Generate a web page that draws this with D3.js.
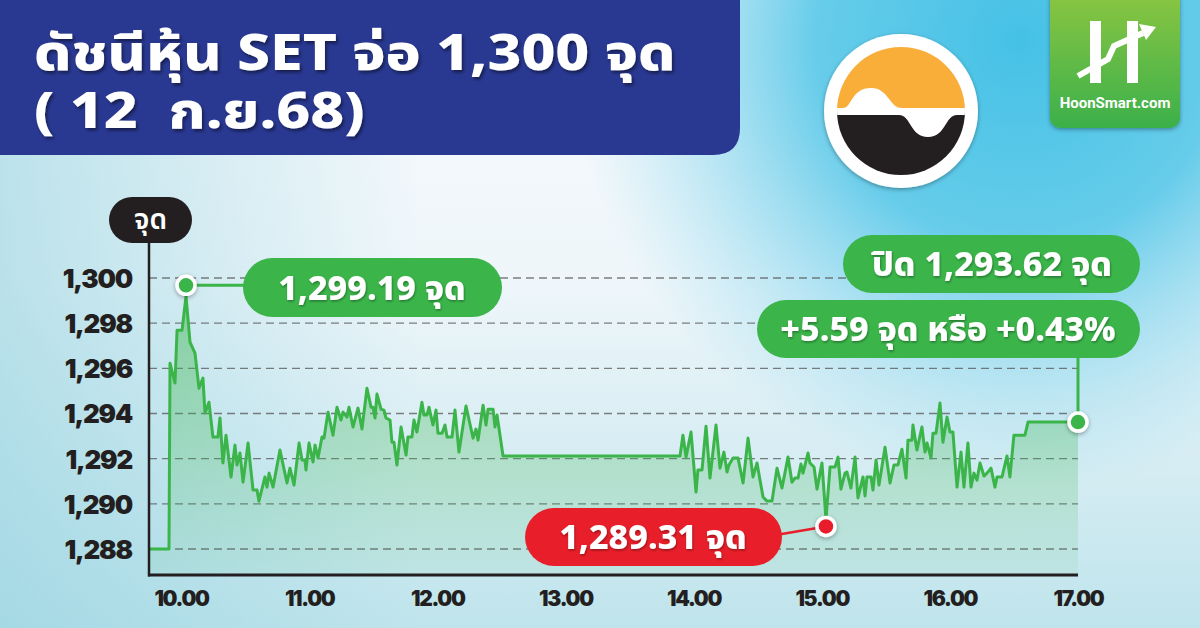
<!DOCTYPE html>
<html><head><meta charset="utf-8">
<script src="https://cdn.jsdelivr.net/npm/d3@7"></script>
<style>
html,body{margin:0;padding:0;width:1200px;height:628px;overflow:hidden;background:#fff;}
svg{display:block;}
text{white-space:pre;}
</style></head><body>
<svg id="chart" width="1200" height="628"></svg>
<script>
// ---------- DATA ----------
const times = [9.750,9.906,9.914,9.953,9.969,10.008,10.039,10.070,10.109,10.140,10.171,10.187,10.218,10.249,10.288,10.304,10.327,10.351,10.390,10.421,10.437,10.460,10.484,10.523,10.562,10.593,10.608,10.655,10.671,10.687,10.718,10.772,10.827,10.850,10.882,10.921,10.944,10.967,10.975,10.999,11.030,11.046,11.069,11.100,11.116,11.147,11.186,11.217,11.248,11.264,11.295,11.311,
11.342,11.381,11.412,11.451,11.483,11.498,11.514,11.529,11.561,11.584,11.600,11.631,11.646,11.662,11.685,11.717,11.756,11.771,11.802,11.818,11.841,11.880,11.896,11.919,11.935,11.966,11.990,12.005,12.037,12.060,12.076,12.115,12.138,12.169,12.224,12.279,12.302,12.318,12.357,12.380,12.396,12.435,12.450,12.466,12.513,13.894,
13.917,13.941,13.980,14.019,14.034,14.066,14.097,14.128,14.175,14.206,14.237,14.261,14.276,14.308,14.347,14.386,14.425,14.464,14.495,14.542,14.573,14.612,14.651,14.690,14.737,14.768,14.791,14.815,14.838,14.854,14.893,14.908,14.940,14.963,15.002,15.033,15.065,15.104,15.127,15.150,15.182,
15.197,15.228,15.260,15.283,15.322,15.338,15.353,15.385,15.400,15.424,15.447,15.494,15.533,15.564,15.595,15.626,15.658,15.673,15.704,15.712,15.743,15.782,15.806,15.822,15.853,15.868,15.892,15.923,15.946,15.978,16.001,16.024,16.056,16.087,16.110,16.141,16.165,16.188,16.212,16.235,16.266,16.290,16.321,16.352,16.368,16.407,16.446,16.469,16.500,16.586,16.610,17.000];
const values = [1288.00,1288.00,1296.23,1295.35,1297.69,1297.69,1299.19,1297.16,1296.67,1295.12,1295.57,1294.02,1294.50,1292.96,1292.96,1293.80,1291.81,1293.04,1291.19,1292.60,1291.72,1292.25,1290.96,1292.69,1290.61,1290.61,1290.12,1291.19,1290.74,1291.36,1290.74,1292.38,1290.92,1291.58,1290.83,1292.69,1291.94,1291.94,1291.50,1292.69,1291.85,1292.60,1292.03,1292.96,1292.91,1294.06,1293.04,1294.28,1293.71,1294.06,1293.84,1294.28,
1293.40,1294.24,1293.31,1295.12,1294.28,1294.28,1293.80,1294.86,1294.19,1294.15,1293.80,1293.71,1292.73,1292.73,1291.72,1293.40,1292.16,1292.96,1292.96,1293.71,1293.18,1294.50,1293.93,1293.93,1294.28,1293.49,1294.15,1293.13,1293.13,1293.49,1292.96,1292.96,1294.15,1292.29,1294.33,1292.91,1293.31,1292.82,1294.37,1293.49,1294.19,1294.19,1293.40,1293.93,1292.12,1292.12,
1293.04,1292.07,1293.18,1290.52,1291.50,1291.50,1293.44,1291.14,1293.49,1291.58,1292.29,1291.41,1291.72,1292.03,1292.03,1290.92,1292.91,1291.19,1291.81,1290.30,1290.12,1290.12,1291.58,1290.70,1292.07,1290.96,1291.14,1291.14,1291.76,1291.36,1292.25,1291.81,1291.63,1290.65,1291.81,1289.31,1291.63,1291.63,1292.07,1290.65,1291.36,
1291.41,1290.70,1292.07,1290.26,1291.19,1290.35,1291.19,1291.19,1290.61,1291.94,1290.83,1292.51,1290.92,1291.72,1291.72,1292.42,1291.14,1292.82,1292.82,1293.49,1292.38,1293.40,1292.29,1292.69,1292.03,1293.13,1293.13,1294.46,1292.73,1293.84,1293.18,1293.18,1290.74,1292.29,1290.74,1292.69,1290.74,1291.36,1291.05,1291.81,1291.23,1291.36,1291.58,1290.74,1291.19,1291.19,1292.12,1291.19,1293.04,1293.04,1293.62,1293.62];

const xTicks = [10, 11, 12, 13, 14, 15, 16, 17];
const yTicks = [1288, 1290, 1292, 1294, 1296, 1298, 1300];
const titleLines = ["ดัชนีหุ้น SET จ่อ 1,300 จุด", "( 12  ก.ย.68)"];
const unitLabel = "จุด";
const highPoint = {t: 10.039, v: 1299.19, label: "1,299.19 จุด"};
const lowPoint = {t: 15.033, v: 1289.31, label: "1,289.31 จุด"};
const closePoint = {t: 17.0, v: 1293.62, label: "ปิด 1,293.62 จุด", change: "+5.59 จุด หรือ +0.43%"};
const brandText = "HoonSmart.com";

// ---------- SETUP ----------
const W = 1200, H = 628;
const svg = d3.select("#chart");
const defs = svg.append("defs");
const FONT = "'Noto Sans Thai','Noto Sans','DejaVu Sans',sans-serif";
const NUMFONT = "Inter,'Noto Sans Thai','Noto Sans',sans-serif";
const GREEN = "#3bb54a", RED = "#e81f2a";

// gradients
const bg = defs.append("linearGradient").attr("id","bg").attr("x1",0).attr("y1",0).attr("x2",0).attr("y2",1);
bg.append("stop").attr("offset","0%").attr("stop-color","#f7fafc");
bg.append("stop").attr("offset","45%").attr("stop-color","#eef6fa");
bg.append("stop").attr("offset","100%").attr("stop-color","#bfe4ec");
const bgL = defs.append("linearGradient").attr("id","bgL").attr("x1",0).attr("y1",0).attr("x2",1).attr("y2",0);
bgL.append("stop").attr("offset","0%").attr("stop-color","#8fd0de").attr("stop-opacity",0.55);
bgL.append("stop").attr("offset","35%").attr("stop-color","#8fd0de").attr("stop-opacity",0.0);
const sky = defs.append("radialGradient").attr("id","sky").attr("cx",1020).attr("cy",40).attr("r",450).attr("gradientUnits","userSpaceOnUse");
sky.append("stop").attr("offset","0%").attr("stop-color","#45c1e6").attr("stop-opacity",1);
sky.append("stop").attr("offset","45%").attr("stop-color","#56c7e8").attr("stop-opacity",0.9);
sky.append("stop").attr("offset","100%").attr("stop-color","#8fd8ee").attr("stop-opacity",0);
const areaG = defs.append("linearGradient").attr("id","areaG").attr("x1",0).attr("y1",0).attr("x2",0).attr("y2",1);
areaG.append("stop").attr("offset","0%").attr("stop-color","#3bb54a").attr("stop-opacity",0.5);
areaG.append("stop").attr("offset","100%").attr("stop-color","#3bb54a").attr("stop-opacity",0.06);
const hs = defs.append("linearGradient").attr("id","hs").attr("x1",0).attr("y1",0).attr("x2",0).attr("y2",1);
hs.append("stop").attr("offset","0%").attr("stop-color","#8dc641");
hs.append("stop").attr("offset","100%").attr("stop-color","#3bb04a");

const sh = defs.append("filter").attr("id","sh").attr("x","-20%").attr("y","-20%").attr("width","140%").attr("height","160%");
sh.append("feDropShadow").attr("dx",1.5).attr("dy",2.5).attr("stdDeviation",1.5).attr("flood-color","#000").attr("flood-opacity",0.45);
const shs = defs.append("filter").attr("id","shs").attr("x","-20%").attr("y","-20%").attr("width","140%").attr("height","160%");
shs.append("feDropShadow").attr("dx",0.8).attr("dy",1.5).attr("stdDeviation",1).attr("flood-color","#000").attr("flood-opacity",0.35);
const shm = defs.append("filter").attr("id","shm").attr("x","-50%").attr("y","-50%").attr("width","200%").attr("height","200%");
shm.append("feDropShadow").attr("dx",0).attr("dy",1.5).attr("stdDeviation",2).attr("flood-color","#000").attr("flood-opacity",0.35);

// background
svg.append("rect").attr("width",W).attr("height",H).attr("fill","url(#bg)");
svg.append("rect").attr("width",W).attr("height",H).attr("fill","url(#bgL)");
svg.append("rect").attr("width",W).attr("height",H).attr("fill","url(#sky)");

// ---------- TITLE ----------
svg.append("path")
  .attr("d","M0,0 H740 V128 Q740,155 713,155 H0 Z")
  .attr("fill","#293891");
const tt = svg.append("text").attr("filter","url(#sh)").attr("fill","#fff")
  .attr("font-family",FONT).attr("font-weight",800).attr("font-size",49)
  .attr("transform","translate(34,70) scale(1.2,1)");
tt.selectAll("tspan").data(titleLines).join("tspan")
  .attr("x",0).attr("y",(d,i)=>i*58).text(d=>d);

// ---------- SET LOGO ----------
const lg = svg.append("g");
lg.append("circle").attr("cx",901).attr("cy",111).attr("r",77).attr("fill","#fff").attr("filter","url(#shm)");
defs.append("clipPath").attr("id","lc").append("circle").attr("cx",901).attr("cy",111).attr("r",64);
const lgi = lg.append("g").attr("clip-path","url(#lc)");
lgi.append("rect").attr("x",830).attr("y",40).attr("width",150).attr("height",72).attr("fill","#f9ae3a");
lgi.append("rect").attr("x",830).attr("y",111).attr("width",150).attr("height",72).attr("fill","#231f20");
lgi.append("path").attr("fill","#fff")
  .attr("d","M830,108 H843 C852,108 851,88 871,88 C889,88 889,108 902,108 H980 V115 H957 C945,115 946,137 928,137 C910,137 911,115 899,115 H830 Z");

// ---------- HOONSMART LOGO ----------
const hg = svg.append("g");
hg.append("rect").attr("x",1050).attr("y",-12).attr("width",130).attr("height",140).attr("rx",10)
  .attr("fill","url(#hs)").attr("filter","url(#shm)");
hg.append("rect").attr("x",1090).attr("y",21).attr("width",11).attr("height",62).attr("fill","#fff");
hg.append("rect").attr("x",1127).attr("y",21).attr("width",11).attr("height",62).attr("fill","#fff");
hg.append("path").attr("d","M1078,76 L1108,59 L1114,46 L1143,33")
  .attr("fill","none").attr("stroke","#fff").attr("stroke-width",6).attr("stroke-linejoin","miter");
hg.append("path").attr("d","M1156,27 L1139,24 L1146,40 Z").attr("fill","#fff");
hg.append("text").attr("x",1115).attr("y",108).attr("text-anchor","middle")
  .attr("font-family","Roboto,'Noto Sans',sans-serif").attr("font-weight",700).attr("font-size",15)
  .attr("fill","#fff").text(brandText);

// ---------- SCALES ----------
const x = d3.scaleLinear().domain([9.75, 17]).range([149, 1078]);
const y = d3.scaleLinear().domain([1288, 1300]).range([549, 278]);
const plotBottom = 575, plotTop = 243;
const data = times.map((t,i)=>({t, v: values[i]}));

// grid
svg.append("g").selectAll("line").data(yTicks).join("line")
  .attr("x1",x.range()[0]).attr("x2",x.range()[1])
  .attr("y1",d=>y(d)).attr("y2",d=>y(d))
  .attr("stroke","#555").attr("stroke-opacity",0.75).attr("stroke-width",1.4).attr("stroke-dasharray","8,5");

// area + line
svg.append("path").datum(data)
  .attr("d", d3.area().x(d=>x(d.t)).y0(plotBottom).y1(d=>y(d.v)))
  .attr("fill","url(#areaG)");
svg.append("path").datum(data)
  .attr("d", d3.line().x(d=>x(d.t)).y(d=>y(d.v)))
  .attr("fill","none").attr("stroke",GREEN).attr("stroke-width",3).attr("stroke-linejoin","round");

// axes
const yAxis = svg.append("g").attr("transform","translate(149,0)")
  .call(d3.axisLeft(y).tickValues(yTicks).tickFormat(d3.format(",")).tickSize(0).tickPadding(17));
yAxis.select(".domain").remove();
yAxis.selectAll("text").attr("font-family",NUMFONT).attr("font-weight",900).attr("font-size",26)
  .attr("fill","#231f20").attr("letter-spacing",-1.2).attr("dy","0.36em");
const xAxis = svg.append("g").attr("transform",`translate(0,${plotBottom})`)
  .call(d3.axisBottom(x).tickValues(xTicks).tickFormat(d=>d+".00").tickSize(0).tickPadding(16));
xAxis.select(".domain").remove();
xAxis.selectAll("text").attr("font-family",NUMFONT).attr("font-weight",900).attr("font-size",21)
  .attr("fill","#231f20").attr("letter-spacing",-1.3);
svg.append("line").attr("x1",149).attr("x2",149).attr("y1",plotTop).attr("y2",plotBottom+1.5)
  .attr("stroke","#231f20").attr("stroke-width",2.5);
svg.append("line").attr("x1",148).attr("x2",1078).attr("y1",plotBottom).attr("y2",plotBottom)
  .attr("stroke","#231f20").attr("stroke-width",3);

// unit badge
svg.append("rect").attr("x",109).attr("y",197).attr("width",83).attr("height",46).attr("rx",23).attr("fill","#231f20");
svg.append("text").attr("x",150.5).attr("y",229).attr("text-anchor","middle")
  .attr("font-family",FONT).attr("font-weight",600).attr("font-size",28).attr("fill","#fff").text(unitLabel);

// ---------- ANNOTATIONS ----------
function pill(x0, y0, w, h, color, label, tx, fs){
  svg.append("rect").attr("x",x0).attr("y",y0).attr("width",w).attr("height",h).attr("rx",h/2).attr("fill",color);
  svg.append("text").attr("x",tx).attr("y",y0+h/2).attr("dy","0.36em").attr("text-anchor","middle")
    .attr("font-family",FONT).attr("font-weight",800).attr("font-size",fs||34).attr("fill","#fff")
    .attr("filter","url(#shs)").text(label);
}
function marker(cx, cy, color){
  svg.append("circle").attr("cx",cx).attr("cy",cy).attr("r",9).attr("fill",color)
    .attr("stroke","#fff").attr("stroke-width",3.5).attr("filter","url(#shm)");
}
// high
const hx = x(highPoint.t), hy = y(highPoint.v) - 11;
svg.append("line").attr("x1",hx).attr("x2",260).attr("y1",hy).attr("y2",hy).attr("stroke",GREEN).attr("stroke-width",3);
pill(243, 258, 259, 59, GREEN, highPoint.label, 372);
marker(hx, hy, GREEN);
// low
const lx = x(lowPoint.t), ly = y(lowPoint.v) + 7;
svg.append("line").attr("x1",770).attr("y1",536).attr("x2",lx).attr("y2",ly).attr("stroke",RED).attr("stroke-width",2.5);
pill(525, 508, 257, 58, RED, lowPoint.label, 653);
marker(lx, ly, RED);
// close
const cx = x(closePoint.t), cy = y(closePoint.v);
svg.append("line").attr("x1",cx).attr("x2",cx).attr("y1",340).attr("y2",cy).attr("stroke",GREEN).attr("stroke-width",3);
pill(843, 235, 297, 58, GREEN, closePoint.label, 992);
pill(757, 300, 383, 58, GREEN, closePoint.change, 948);
marker(cx, cy, GREEN);
</script>
</body></html>
